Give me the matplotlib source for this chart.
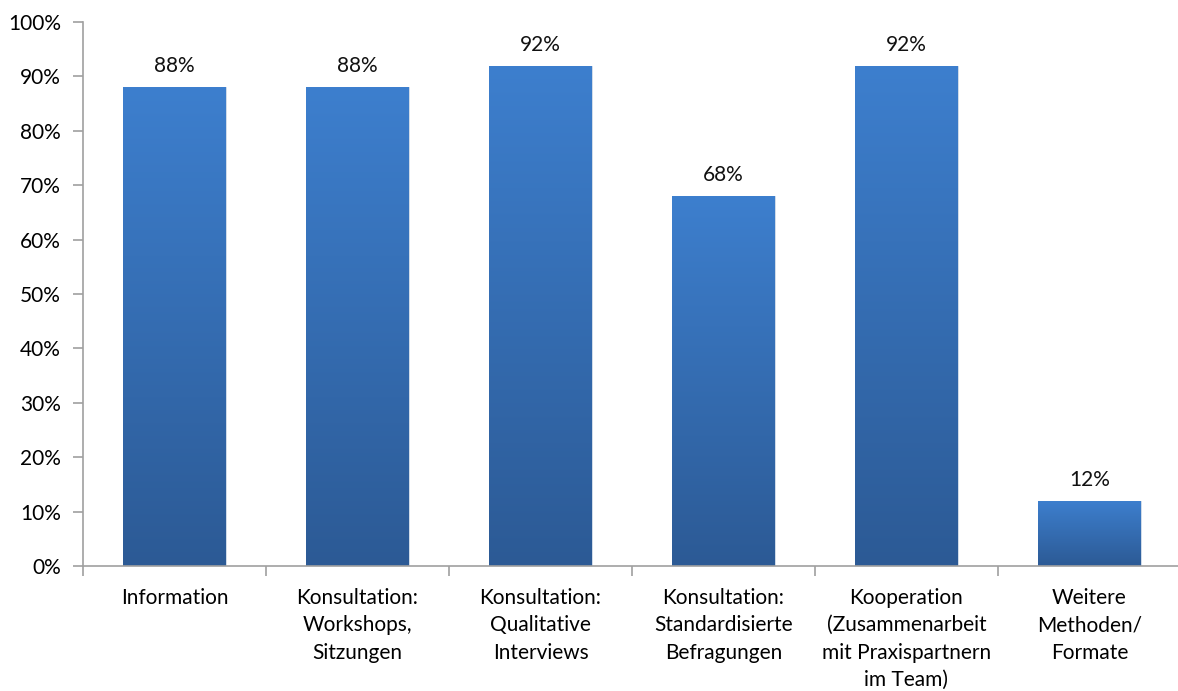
import matplotlib.pyplot as plt
import numpy as np
from matplotlib.colors import LinearSegmentedColormap

categories = ["Information", "Konsultation:\nWorkshops,\nSitzungen",
              "Konsultation:\nQualitative\nInterviews",
              "Konsultation:\nStandardisierte\nBefragungen",
              "Kooperation\n(Zusammenarbeit\nmit Praxispartnern\nim Team)",
              "Weitere\nMethoden/\nFormate"]
values = [88, 88, 92, 68, 92, 12]

plt.rcParams['font.family'] = ['Lato', 'DejaVu Sans']

fig = plt.figure(figsize=(11.78, 6.91), dpi=100)
ax = fig.add_axes([0.0705, 0.181, 0.932, 0.787])

x = np.arange(len(values))
width = 0.56
grad = LinearSegmentedColormap.from_list("bar", ["#2c5a95", "#3d7fce"])
gimg = np.linspace(0, 1, 256).reshape(-1, 1)

bars = ax.bar(x, values, width=width, color="none", edgecolor="#c8d4e4", linewidth=0.6)
for b, v in zip(bars, values):
    x0 = b.get_x()
    # gradient runs over each bar's own height
    im = ax.imshow(gimg, cmap=grad, origin="lower", aspect="auto",
                   extent=[x0, x0 + width, 0, v], zorder=1)
    im.set_clip_path(b)
    ax.text(b.get_x() + width / 2, v + 2.0, f"{v}%", ha="center", va="bottom",
            fontsize=15, color="#111111")

ax.set_xlim(-0.5, len(values) - 0.5)
ax.set_ylim(0, 100)
ax.set_yticks(np.arange(0, 101, 10))
ax.set_yticklabels([f"{t}%" for t in range(0, 101, 10)], fontsize=15)

# category ticks sit between bars
ax.set_xticks(x)
ax.set_xticklabels(categories, fontsize=15, linespacing=1.45, va="top")
ax.tick_params(axis="x", length=0, pad=16)
ax.set_xticks(np.arange(-0.5, len(values)), minor=True)
ax.tick_params(axis="x", which="minor", length=7, color="#a0a0a0", width=1.2)
ax.tick_params(axis="y", length=7, color="#a0a0a0", width=1.2, pad=9)

for side in ["top", "right"]:
    ax.spines[side].set_visible(False)
for side in ["left", "bottom"]:
    ax.spines[side].set_color("#a0a0a0")
    ax.spines[side].set_linewidth(1.2)

fig.savefig("out.png", dpi=100)
